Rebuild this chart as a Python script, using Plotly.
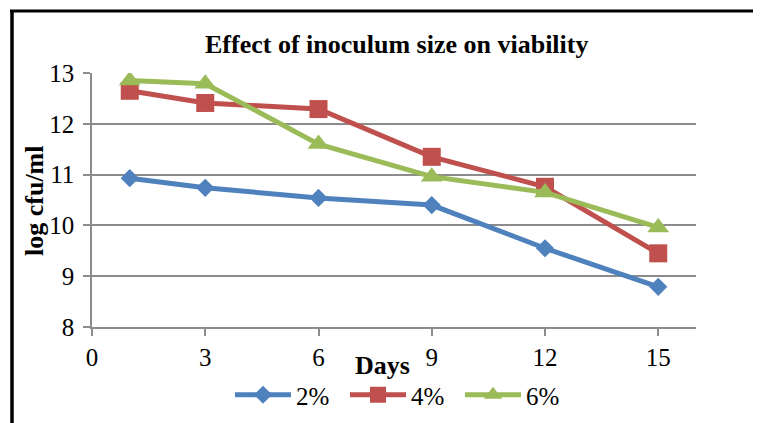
import plotly.graph_objects as go

days = [1, 3, 6, 9, 12, 15]
s2 = [10.93, 10.74, 10.54, 10.40, 9.55, 8.79]
s4 = [12.65, 12.41, 12.29, 11.35, 10.76, 9.45]
s6 = [12.85, 12.79, 11.60, 10.96, 10.65, 9.96]
series_names = ["2%", "4%", "6%"]
x_ticks = [0, 3, 6, 9, 12, 15]
y_ticks = [8, 9, 10, 11, 12, 13]

OFF = 8  # page body margin
W, H = 761 - OFF, 423 - OFF
L, R, T, B = 92 - OFF, 696 - OFF, 73 - OFF, 327 - OFF

FONT = "Liberation Serif"
colors = ["#4F81BD", "#C0504D", "#9BBB59"]
symbols = ["diamond", "square", "triangle-up"]
msizes = [14, 18, 19]

fig = go.Figure()
for name, vals, c, sym, ms in zip(series_names, [s2, s4, s6], colors, symbols, msizes):
    fig.add_trace(go.Scatter(
        x=days, y=vals, name=name, mode="lines+markers",
        line=dict(color=c, width=5),
        marker=dict(symbol=sym, size=ms, color=c),
    ))

def px_x(p):
    return (p - OFF - L) / (R - L)

def px_y(p):
    return (B - (p - OFF)) / (B - T)

fig.update_layout(
    width=W, height=H,
    margin=dict(l=L, r=W - R, t=T, b=H - B, autoexpand=False),
    paper_bgcolor="white", plot_bgcolor="white",
    font=dict(family=FONT, size=24, color="black"),
    showlegend=True,
    legend=dict(orientation="h", x=px_x(230), xanchor="left", y=px_y(395), yanchor="middle",
                font=dict(size=25, family=FONT, color="black"), itemwidth=56, entrywidth=44,
                tracegroupgap=0, bgcolor="rgba(0,0,0,0)"),
    xaxis=dict(range=[0, 16], tickvals=x_ticks, showgrid=False, zeroline=False,
               showline=True, linecolor="#8c8c8c", linewidth=1.5,
               ticks="outside", ticklen=7, tickcolor="#8c8c8c", tickwidth=1.5,
               tickfont=dict(size=25, family=FONT), fixedrange=True),
    yaxis=dict(range=[8, 13], tickvals=y_ticks, showgrid=True, gridcolor="#8c8c8c", gridwidth=1.5,
               zeroline=False, showline=True, linecolor="#8c8c8c", linewidth=1.5,
               ticks="outside", ticklen=7, tickcolor="#8c8c8c", tickwidth=1.5,
               ticklabelstandoff=4,
               tickfont=dict(size=25, family=FONT), fixedrange=True),
    annotations=[
        dict(text="<b>Effect of inoculum size on viability</b>", xref="paper", yref="paper",
             x=px_x(396), y=px_y(45), xanchor="center", yanchor="middle", showarrow=False,
             font=dict(size=26, family=FONT)),
        dict(text="<b>log cfu/ml</b>", xref="paper", yref="paper", textangle=-90,
             x=px_x(34), y=px_y(201), xanchor="center", yanchor="middle", showarrow=False,
             font=dict(size=26, family=FONT)),
        dict(text="<b>Days</b>", xref="paper", yref="paper",
             x=px_x(382), y=px_y(365), xanchor="center", yanchor="middle", showarrow=False,
             font=dict(size=26, family=FONT)),
    ],
    shapes=[
        dict(type="line", xref="paper", yref="paper", x0=px_x(10), x1=px_x(780),
             y0=px_y(11), y1=px_y(11), line=dict(color="black", width=3)),
        dict(type="line", xref="paper", yref="paper", x0=px_x(12), x1=px_x(12),
             y0=px_y(10), y1=px_y(440), line=dict(color="black", width=3.5)),
    ],
)

fig.write_html("out.html")
